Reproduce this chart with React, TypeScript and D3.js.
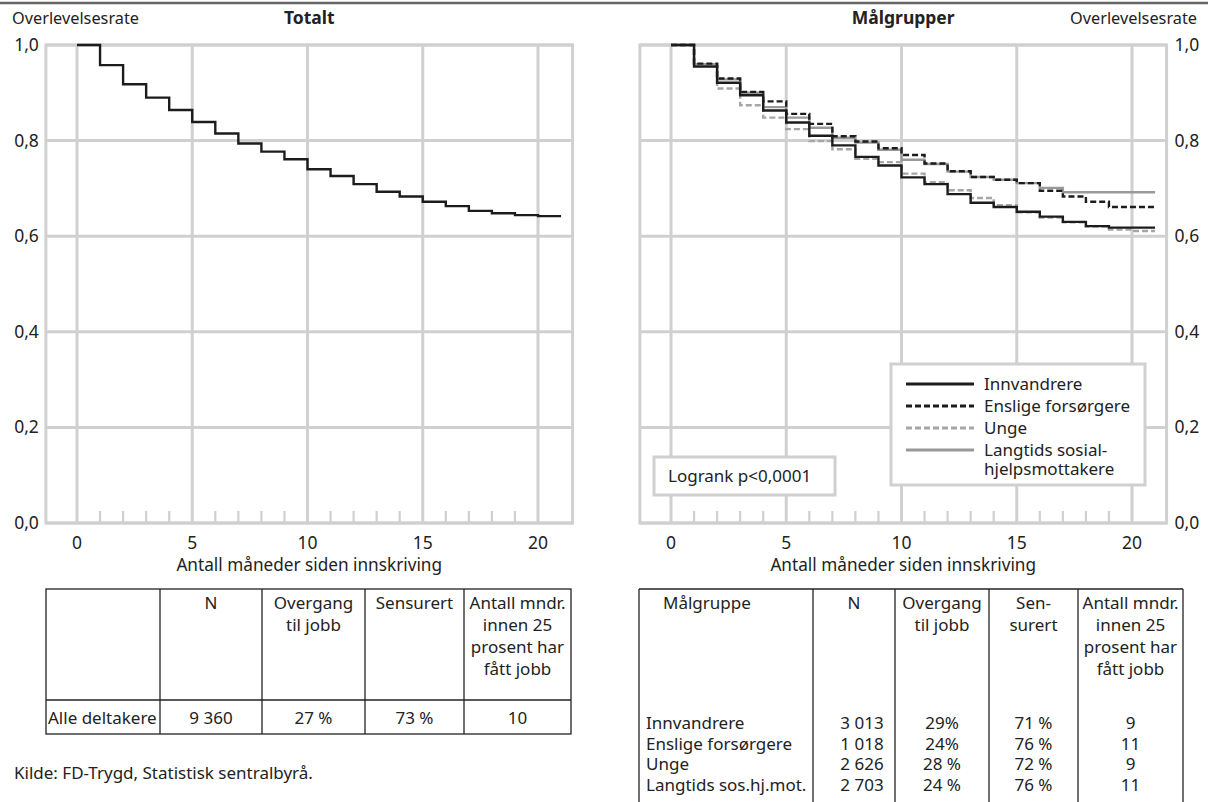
import React from 'react'
import * as d3 from 'd3'

// months 0..20, each value holds for [m, m+1), last step runs to month 21
const months = [0, 1, 2, 3, 4, 5, 6, 7, 8, 9, 10, 11, 12, 13, 14, 15, 16, 17, 18, 19, 20]
const totalt = [1.0, 0.958, 0.918, 0.89, 0.864, 0.839, 0.815, 0.794, 0.777, 0.761, 0.74, 0.726, 0.709, 0.693, 0.683, 0.672, 0.663, 0.653, 0.648, 0.644, 0.642]
const innvandrere = [1.0, 0.955, 0.921, 0.895, 0.863, 0.838, 0.81, 0.79, 0.766, 0.748, 0.723, 0.709, 0.688, 0.67, 0.661, 0.651, 0.641, 0.63, 0.621, 0.618, 0.618]
const enslige = [1.0, 0.961, 0.93, 0.902, 0.882, 0.856, 0.835, 0.809, 0.798, 0.784, 0.77, 0.752, 0.736, 0.724, 0.718, 0.711, 0.695, 0.683, 0.672, 0.661, 0.661]
const unge = [1.0, 0.96, 0.909, 0.874, 0.848, 0.824, 0.799, 0.782, 0.762, 0.755, 0.731, 0.713, 0.696, 0.68, 0.665, 0.65, 0.639, 0.629, 0.62, 0.614, 0.611]
const langtids = [1.0, 0.96, 0.928, 0.9, 0.87, 0.848, 0.827, 0.806, 0.796, 0.781, 0.76, 0.751, 0.735, 0.724, 0.718, 0.711, 0.701, 0.692, 0.692, 0.692, 0.692]
const lastMonth = 21

const xTicks = [0, 5, 10, 15, 20]
const yTicks = [0, 0.2, 0.4, 0.6, 0.8, 1.0]

const groups = [
  { name: ['Innvandrere'], values: innvandrere, color: '#1c1c1c', dash: '' },
  { name: ['Enslige forsørgere'], values: enslige, color: '#1c1c1c', dash: '6,3' },
  { name: ['Unge'], values: unge, color: '#a6a6a6', dash: '6,3' },
  { name: ['Langtids sosial-', 'hjelpsmottakere'], values: langtids, color: '#999999', dash: '' },
]

const leftHead = [[], ['N'], ['Overgang', 'til jobb'], ['Sensurert'], ['Antall mndr.', 'innen 25', 'prosent har', 'fått jobb']]
const leftRow = ['Alle deltakere', '9 360', '27 %', '73 %', '10']
const rightHead = [['Målgruppe'], ['N'], ['Overgang', 'til jobb'], ['Sen-', 'surert'], ['Antall mndr.', 'innen 25', 'prosent har', 'fått jobb']]
const rightRows = [
  ['Innvandrere', '3 013', '29%', '71 %', '9'],
  ['Enslige forsørgere', '1 018', '24%', '76 %', '11'],
  ['Unge', '2 626', '28 %', '72 %', '9'],
  ['Langtids sos.hj.mot.', '2 703', '24 %', '76 %', '11'],
]

const font = "'Noto Sans', 'Open Sans', sans-serif"
const gridColor = '#d0d0d0'
const ink = '#222'

const fmt = (v: number) => d3.format('.1f')(v).replace('.', ',')

const Panel = ({ x0, yAxisRight, series, title }: any) => {
  // x0 = pixel of month 0
  const x = d3.scaleLinear().domain([0, 20]).range([x0, x0 + 461])
  const y = d3.scaleLinear().domain([0, 1]).range([523, 45])
  const left = x(-1.35)
  const right = x(21.5)
  const line = d3
    .line<[number, number]>()
    .x((d) => x(d[0]))
    .y((d) => y(d[1]))
    .curve(d3.curveStepAfter)
  const pts = (vals: number[]) =>
    (months.map((m, i) => [m, vals[i]]) as [number, number][]).concat([[lastMonth, vals[vals.length - 1]]])
  const minor = months.filter((m) => m % 5 !== 0)
  return (
    <g fontFamily={font} fill={ink}>
      <rect x={left} y={y(1)} width={right - left} height={y(0) - y(1)} fill="none" stroke={gridColor} strokeWidth={3} />
      {yTicks.map((t) => (
        <line key={'h' + t} x1={left} x2={right} y1={y(t)} y2={y(t)} stroke={gridColor} strokeWidth={3} />
      ))}
      {xTicks.map((t) => (
        <line key={'v' + t} x1={x(t)} x2={x(t)} y1={y(1)} y2={y(0)} stroke={gridColor} strokeWidth={3} />
      ))}
      {minor.map((m) => (
        <line key={'m' + m} x1={x(m)} x2={x(m)} y1={y(0)} y2={y(0) - 12} stroke={gridColor} strokeWidth={2.2} />
      ))}
      {yTicks.map((t) => (
        <text
          key={'yl' + t}
          x={yAxisRight ? right + 8 : left - 7}
          y={y(t) + 6}
          fontSize={17.5}
          textAnchor={yAxisRight ? 'start' : 'end'}
        >
          {fmt(t)}
        </text>
      ))}
      {xTicks.map((t) => (
        <text key={'xl' + t} x={x(t)} y={549} fontSize={17.5} textAnchor="middle">
          {t}
        </text>
      ))}
      <text x={(left + right) / 2} y={571} fontSize={17.2} textAnchor="middle">
        Antall måneder siden innskriving
      </text>
      <text x={(left + right) / 2} y={24} fontSize={17.5} fontWeight="bold" textAnchor="middle">
        {title}
      </text>
      {series.map((s: any, i: number) => (
        <path
          key={i}
          d={line(pts(s.values)) as string}
          fill="none"
          stroke={s.color}
          strokeWidth={2.4}
          strokeDasharray={s.dash || undefined}
        />
      ))}
    </g>
  )
}

const Legend = () => {
  const rowY = [384, 406, 428, 450]
  return (
    <g fontFamily={font} fill={ink}>
      <rect x={891} y={364} width={254} height={121} fill="#fff" stroke={gridColor} strokeWidth={3} />
      {groups.map((g, i) => (
        <g key={i}>
          <line x1={906} x2={974} y1={rowY[i]} y2={rowY[i]} stroke={g.color} strokeWidth={2.8} strokeDasharray={g.dash || undefined} />
          <text x={984} y={rowY[i] + 6} fontSize={17}>
            {g.name.map((n, j) => (
              <tspan key={j} x={984} dy={j === 0 ? 0 : 18.5}>
                {n}
              </tspan>
            ))}
          </text>
        </g>
      ))}
      <rect x={654} y={457} width={181} height={38} fill="#fff" stroke={gridColor} strokeWidth={3} />
      <text x={668} y={482} fontSize={17}>
        Logrank p&lt;0,0001
      </text>
    </g>
  )
}

const LeftTable = () => {
  const cols = [46, 160, 262, 365, 464, 571]
  const top = 589
  const mid = 700
  const bot = 734
  return (
    <g fontFamily={font} fontSize={17} fill={ink}>
      <rect x={cols[0]} y={top} width={cols[5] - cols[0]} height={bot - top} fill="none" stroke="#222" strokeWidth={1.3} />
      <line x1={cols[0]} x2={cols[5]} y1={mid} y2={mid} stroke="#222" strokeWidth={1.3} />
      {cols.slice(1, 5).map((c) => (
        <line key={c} x1={c} x2={c} y1={top} y2={bot} stroke="#222" strokeWidth={1.3} />
      ))}
      {leftHead.map((h, i) =>
        h.map((t, j) => (
          <text key={i + '-' + j} x={(cols[i] + cols[i + 1]) / 2} y={609 + j * 22} textAnchor="middle">
            {t}
          </text>
        ))
      )}
      {leftRow.map((t, i) => (
        <text key={i} x={i === 0 ? cols[0] + 2 : (cols[i] + cols[i + 1]) / 2} y={724} textAnchor={i === 0 ? 'start' : 'middle'}>
          {t}
        </text>
      ))}
      <text x={14} y={779}>
        Kilde: FD-Trygd, Statistisk sentralbyrå.
      </text>
    </g>
  )
}

const RightTable = () => {
  const cols = [639, 813, 895, 989, 1078, 1183]
  const top = 589
  return (
    <g fontFamily={font} fontSize={17} fill={ink}>
      <line x1={cols[0]} x2={cols[5]} y1={top} y2={top} stroke="#222" strokeWidth={1.3} />
      {cols.map((c) => (
        <line key={c} x1={c} x2={c} y1={top} y2={802} stroke="#222" strokeWidth={1.3} />
      ))}
      {rightHead.map((h, i) =>
        h.map((t, j) => (
          <text
            key={i + '-' + j}
            x={i === 0 ? cols[0] + 24 : (cols[i] + cols[i + 1]) / 2}
            y={609 + j * 22}
            textAnchor={i === 0 ? 'start' : 'middle'}
          >
            {t}
          </text>
        ))
      )}
      {rightRows.map((r, k) =>
        r.map((t, i) => (
          <text
            key={k + '-' + i}
            x={i === 0 ? cols[0] + 7 : (cols[i] + cols[i + 1]) / 2 + (i === 1 ? 8 : 0)}
            y={729 + k * 20.7}
            textAnchor={i === 0 ? 'start' : 'middle'}
          >
            {t}
          </text>
        ))
      )}
    </g>
  )
}

export default function App() {
  return (
    <svg width={1208} height={802} style={{ position: 'absolute', left: 0, top: 0, background: '#fff' }}>
      <rect x={0} y={0} width={1208} height={802} fill="#fff" />
      <line x1={0} x2={1208} y1={3} y2={3} stroke="#666" strokeWidth={2.5} />
      <text x={12} y={24} fontFamily={font} fontSize={16.3} fill={ink}>
        Overlevelsesrate
      </text>
      <text x={1197} y={24} fontFamily={font} fontSize={16.3} fill={ink} textAnchor="end">
        Overlevelsesrate
      </text>
      <Panel x0={77} yAxisRight={false} title="Totalt" series={[{ values: totalt, color: '#1c1c1c', dash: '' }]} />
      <Panel x0={671} yAxisRight={true} title="Målgrupper" series={[groups[3], groups[2], groups[1], groups[0]]} />
      <Legend />
      <LeftTable />
      <RightTable />
    </svg>
  )
}
